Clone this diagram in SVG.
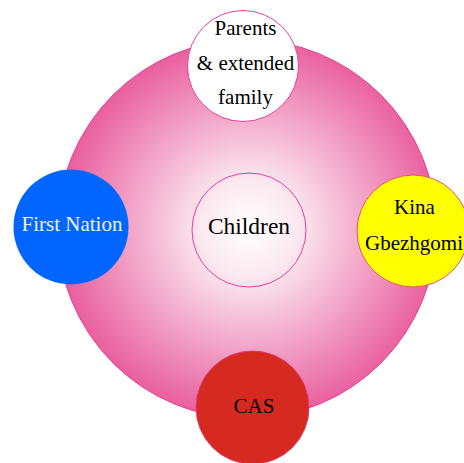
<svg xmlns="http://www.w3.org/2000/svg" width="464" height="463" viewBox="0 0 464 463">
<defs>
<radialGradient id="bg" cx="249" cy="229" r="190" gradientUnits="userSpaceOnUse">
<stop offset="0" stop-color="#ffffff"/>
<stop offset="0.25" stop-color="#fbe9f0"/>
<stop offset="1" stop-color="#e9609f"/>
</radialGradient>
<style>
text{font-family:"Liberation Serif","Times New Roman",serif;font-size:21px;text-anchor:middle;fill:#000}
.ring{stroke:#e4409a;stroke-width:1}
</style>
</defs>
<rect width="464" height="463" fill="#ffffff"/>
<g id="outer"><circle cx="247" cy="229" r="189.5" fill="url(#bg)" class="ring"/></g>
<g id="children"><circle cx="249" cy="230" r="57" fill="none" class="ring"/><text x="249" y="234" style="font-size:23.5px">Children</text></g>
<g id="parents"><circle cx="243" cy="66" r="55.5" fill="#ffffff" class="ring"/><text x="245.5" y="35">Parents</text><text x="245.5" y="70">&amp; extended</text><text x="245.5" y="104">family</text></g>
<g id="first-nation"><circle cx="71" cy="227" r="57.5" fill="#0066ff"/><text x="72" y="231" style="fill:#eef2ff">First Nation</text></g>
<g id="kina"><circle cx="413" cy="231" r="56" fill="#ffff00" stroke="#e8507a" stroke-width="1"/><text x="414.5" y="214">Kina</text><text x="414" y="250">Gbezhgomi</text></g>
<g id="cas"><circle cx="252.5" cy="407.5" r="56.5" fill="#d62a20" stroke="#e03a6a" stroke-width="1"/><text x="254" y="413">CAS</text></g>
<g id="connectors"></g>
</svg>
